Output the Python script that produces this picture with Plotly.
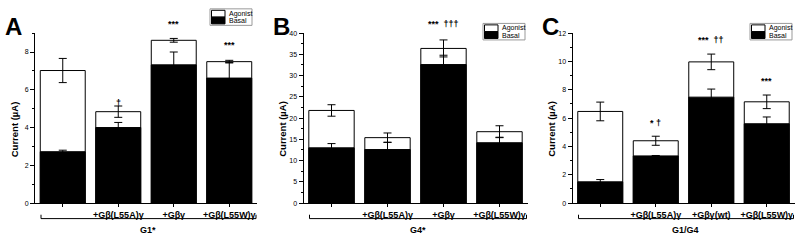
import plotly.graph_objects as go

# ---------------- data ----------------
cats_AB = ["", "+Gβ(L55A)γ", "+Gβγ", "+Gβ(L55W)γ"]
cats_C = [" ", "+Gβ(L55A)γ", "+Gβγ(wt)", "+Gβ(L55W)γ"]

A_basal = [2.72, 4.00, 7.32, 6.62]
A_basal_err = [0.08, 0.27, 0.68, 0.83]
A_total = [7.02, 4.84, 8.62, 7.49]
A_total_err = [0.64, 0.30, 0.10, 0.07]

B_basal = [13.0, 12.6, 32.6, 14.2]
B_basal_err = [1.0, 1.7, 2.2, 1.3]
B_total = [21.8, 15.4, 36.4, 16.8]
B_total_err = [1.35, 1.1, 2.0, 1.4]

C_basal = [1.50, 3.33, 7.48, 5.60]
C_basal_err = [0.16, 0.03, 0.57, 0.48]
C_total = [6.47, 4.40, 9.97, 7.15]
C_total_err = [0.66, 0.32, 0.55, 0.48]

group_labels = ["G1*", "G4*", "G1/G4"]
panel_letters = ["A", "B", "C"]
y_ranges = [[0, 9], [0, 40], [0, 12]]
y_dticks = [2, 5, 2]
y_minor = [1, 2.5, 1]

sig_A = [(1, "†", 102), (2, "***", 21), (3, "***", 42)]
sig_B = [(2, "***  †††", 21)]
sig_C = [(1, "* †", 123), (2, "***  ††", 37), (3, "***", 79)]

# ---------------- layout helpers ----------------
W, H = 800, 242
def px(x):
    return x / W
def py(y):
    return 1 - y / H

FONT = "Liberation Sans, Arial, sans-serif"
x_domains = [(35, 257), (303.5, 527.5), (572.5, 794.5)]
y_bottom, y_top = 205, 30

fig = go.Figure()
panels = [
    (cats_AB, A_basal, A_basal_err, A_total, A_total_err, sig_A),
    (cats_AB, B_basal, B_basal_err, B_total, B_total_err, sig_B),
    (cats_C, C_basal, C_basal_err, C_total, C_total_err, sig_C),
]

shapes = []
annotations = []
for i, (cats, basal, berr, total, terr, sigs) in enumerate(panels):
    xa = "x" if i == 0 else f"x{i+1}"
    ya = "y" if i == 0 else f"y{i+1}"
    fig.add_trace(go.Bar(
        x=cats, y=total, xaxis=xa, yaxis=ya, name="Agonist",
        marker=dict(color="white", line=dict(color="black", width=1)),
        error_y=dict(type="data", array=terr, color="black", thickness=1, width=4),
        showlegend=False))
    fig.add_trace(go.Bar(
        x=cats, y=basal, xaxis=xa, yaxis=ya, name="Basal",
        marker=dict(color="black", line=dict(color="black", width=1)),
        error_y=dict(type="data", array=berr, color="black", thickness=1, width=4),
        showlegend=False))

    x0, x1 = x_domains[i]
    axx = "xaxis" if i == 0 else f"xaxis{i+1}"
    axy = "yaxis" if i == 0 else f"yaxis{i+1}"
    fig.layout[axx] = dict(
        domain=[px(x0), px(x1)], anchor=ya, type="category",
        categoryorder="array", categoryarray=cats, range=[-0.5, 3.5],
        showline=True, linecolor="black", linewidth=1,
        ticks="outside", ticklen=3, tickcolor="black", tickwidth=1,
        tickfont=dict(family=FONT, size=9, color="black", weight="bold"),
        showgrid=False, zeroline=False, fixedrange=True)
    fig.layout[axy] = dict(
        domain=[py(y_bottom), py(y_top)], anchor=xa,
        range=y_ranges[i], dtick=y_dticks[i], tick0=0,
        showline=True, linecolor="black", linewidth=1,
        ticks="outside", ticklen=4, tickcolor="black", tickwidth=1,
        minor=dict(dtick=y_minor[i], ticks="outside", ticklen=2, tickcolor="black"),
        tickfont=dict(family=FONT, size=7, color="black"),
        showgrid=False, zeroline=False, fixedrange=True)

    # bracket below categories
    bx0, bx1 = x0 + 6, x1 - 1
    shapes += [
        dict(type="line", xref="paper", yref="paper", x0=px(bx0), x1=px(bx1), y0=py(221), y1=py(221),
             line=dict(color="black", width=1)),
        dict(type="line", xref="paper", yref="paper", x0=px(bx0), x1=px(bx0), y0=py(221), y1=py(217),
             line=dict(color="black", width=1)),
        dict(type="line", xref="paper", yref="paper", x0=px(bx1), x1=px(bx1), y0=py(221), y1=py(217),
             line=dict(color="black", width=1)),
    ]
    annotations.append(dict(text=group_labels[i], xref="paper", yref="paper",
                            x=px((x0 + x1) / 2 + 2), y=py(233), showarrow=False,
                            xanchor="center", yanchor="middle",
                            font=dict(family=FONT, size=9, color="black", weight="bold")))
    # y-axis title
    annotations.append(dict(text="Current (µA)", xref="paper", yref="paper",
                            x=px(x0 - 21), y=py(129), textangle=-90, showarrow=False,
                            xanchor="center", yanchor="middle",
                            font=dict(family=FONT, size=9.5, color="black", weight="bold")))
    # panel letter
    annotations.append(dict(text=panel_letters[i], xref="paper", yref="paper",
                            x=px(x0 - 22), y=py(23), showarrow=False,
                            xanchor="center", yanchor="middle",
                            font=dict(family=FONT, size=24, color="black", weight="bold")))
    # significance marks
    for (ci, txt, ypix) in sigs:
        annotations.append(dict(text=txt, xref=xa, yref="paper", x=cats[ci], y=py(ypix),
                                showarrow=False, xanchor="center", yanchor="middle",
                                font=dict(family=FONT, size=9, color="black", weight="bold")))

# manual legends (box + swatches + text)
legend_pos = [(210, 5), (483, 20), (750, 20)]
for (lx, ly) in legend_pos:
    shapes += [
        dict(type="rect", xref="paper", yref="paper", x0=px(lx), x1=px(lx + 42), y0=py(ly), y1=py(ly + 17),
             line=dict(color="#999999", width=1), fillcolor="white"),
        dict(type="rect", xref="paper", yref="paper", x0=px(lx + 1.5), x1=px(lx + 15), y0=py(ly + 1.5), y1=py(ly + 8.5),
             line=dict(color="black", width=1), fillcolor="white"),
        dict(type="rect", xref="paper", yref="paper", x0=px(lx + 1.5), x1=px(lx + 15), y0=py(ly + 8.5), y1=py(ly + 15.5),
             line=dict(color="black", width=1), fillcolor="black"),
    ]
    annotations.append(dict(text="Agonist", xref="paper", yref="paper", x=px(lx + 16.5), y=py(ly + 5),
                            showarrow=False, xanchor="left", yanchor="middle",
                            font=dict(family=FONT, size=7, color="black")))
    annotations.append(dict(text="Basal", xref="paper", yref="paper", x=px(lx + 16.5), y=py(ly + 12.5),
                            showarrow=False, xanchor="left", yanchor="middle",
                            font=dict(family=FONT, size=7, color="black")))

fig.update_layout(
    width=W, height=H, margin=dict(l=0, r=0, t=0, b=0),
    paper_bgcolor="white", plot_bgcolor="white",
    barmode="overlay", bargap=0.19,
    shapes=shapes, annotations=annotations, showlegend=False,
    font=dict(family=FONT, color="black"),
)

fig.write_html("out.html", config={"displayModeBar": False},
               post_script="document.body.style.margin='0';document.body.style.overflow='hidden';")
